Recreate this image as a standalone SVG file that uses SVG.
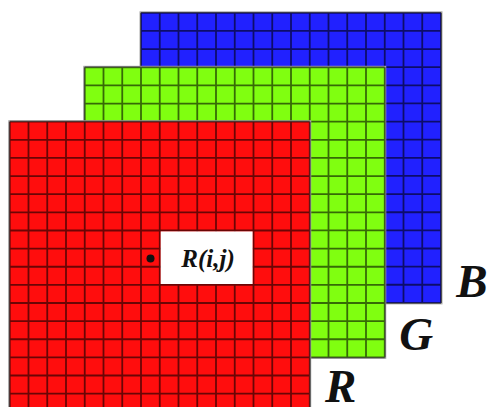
<svg xmlns="http://www.w3.org/2000/svg" xmlns:xlink="http://www.w3.org/1999/xlink" width="489" height="407" viewBox="0 0 489 407">
  <style>
    .edge { fill: none; stroke: #a8a8a8; stroke-width: 3; }
    .lines { fill: none; stroke: #000; stroke-opacity: 0.58; stroke-width: 1.8; }
    .ch { font-family: "Liberation Serif", "Times New Roman", serif; font-style: italic; font-weight: bold; fill: #111; }
  </style>
  <defs>
    <path id="grid" d="M0 0v290.08m18.75 -290.08v290.08m18.75 -290.08v290.08m18.75 -290.08v290.08m18.75 -290.08v290.08m18.75 -290.08v290.08m18.75 -290.08v290.08m18.75 -290.08v290.08m18.75 -290.08v290.08m18.75 -290.08v290.08m18.75 -290.08v290.08m18.75 -290.08v290.08m18.75 -290.08v290.08m18.75 -290.08v290.08m18.75 -290.08v290.08m18.75 -290.08v290.08m18.75 -290.08v290.08 M0 0h300m-300 18.13h300m-300 18.13h300m-300 18.13h300m-300 18.13h300m-300 18.13h300m-300 18.13h300m-300 18.13h300m-300 18.13h300m-300 18.13h300m-300 18.13h300m-300 18.13h300m-300 18.13h300m-300 18.13h300m-300 18.13h300m-300 18.13h300m-300 18.13h300"/>
  </defs>
  <rect width="489" height="407" fill="#fff"/>

  <g id="layer-B">
    <rect class="edge" x="141" y="12.8" width="300" height="290.08"/>
    <rect x="141" y="12.8" width="300" height="290.08" fill="#2121ff"/>
    <use xlink:href="#grid" href="#grid" x="141" y="12.8" class="lines"/>
  </g>

  <g id="layer-G">
    <rect class="edge" x="84.75" y="67.3" width="300" height="290.08"/>
    <rect x="84.75" y="67.3" width="300" height="290.08" fill="#80ff10"/>
    <use xlink:href="#grid" href="#grid" x="84.75" y="67.3" class="lines"/>
  </g>

  <g id="layer-R">
    <rect class="edge" x="9.75" y="121.7" width="300" height="290.08"/>
    <rect x="9.75" y="121.7" width="300" height="290.08" fill="#ff0d0d"/>
    <use xlink:href="#grid" href="#grid" x="9.75" y="121.7" class="lines"/>
  </g>

  <g id="pixel-label">
    <rect x="160.7" y="231.4" width="91.9" height="52.6" fill="#fff"/>
    <circle cx="150.5" cy="258.4" r="4" fill="#111"/>
    <text x="208" y="266.5" class="ch" font-size="25" text-anchor="middle">R(i,j)</text>
  </g>

  <g id="labels">
    <text x="472" y="296.7" class="ch" font-size="47" text-anchor="middle">B</text>
    <text x="416.3" y="350" class="ch" font-size="47" text-anchor="middle">G</text>
    <text x="340.8" y="401.5" class="ch" font-size="47" text-anchor="middle">R</text>
  </g>
</svg>
